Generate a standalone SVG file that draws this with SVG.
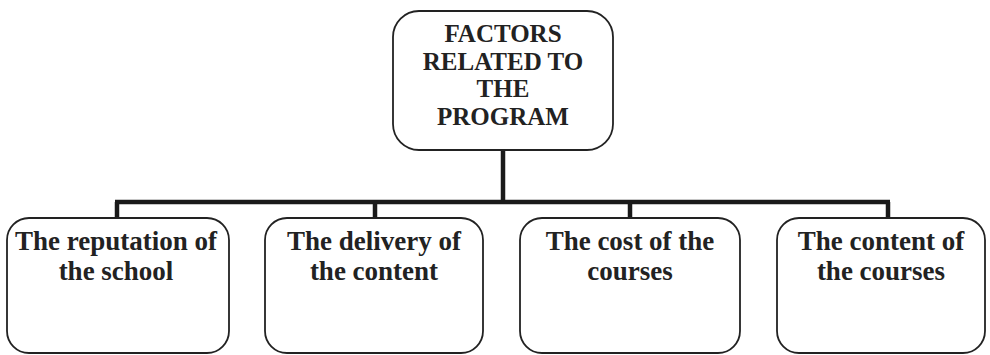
<svg xmlns="http://www.w3.org/2000/svg" width="990" height="355" viewBox="0 0 990 355">
<style>
.box{fill:#fff;stroke:#222;stroke-width:1.8}
.t{font-family:"Liberation Serif","Times New Roman",serif;font-weight:bold;fill:#222;text-anchor:middle}
.top{font-size:25px}
.sub{font-size:27px}
.conn{fill:none;stroke:#1a1a1a;stroke-width:4.5}
</style>
<rect width="990" height="355" fill="#fff"/>
<g id="connectors">
<line class="conn" x1="503" y1="150" x2="503" y2="202"/>
<line class="conn" x1="115" y1="202" x2="890" y2="202"/>
<line class="conn" x1="117" y1="202" x2="117" y2="218"/>
<line class="conn" x1="375" y1="202" x2="375" y2="218"/>
<line class="conn" x1="630" y1="202" x2="630" y2="218"/>
<line class="conn" x1="888" y1="202" x2="888" y2="218"/>
</g>
<g id="root">
<rect class="box" x="393" y="11" width="220" height="139" rx="26"/>
<text class="t top" x="503" y="42">FACTORS</text>
<text class="t top" x="503" y="70">RELATED TO</text>
<text class="t top" x="503" y="97">THE</text>
<text class="t top" x="503" y="125">PROGRAM</text>
</g>
<g id="reputation">
<rect class="box" x="7" y="218" width="222" height="135" rx="22"/>
<text class="t sub" x="116" y="250">The reputation of</text>
<text class="t sub" x="116" y="280">the school</text>
</g>
<g id="delivery">
<rect class="box" x="265" y="218" width="218" height="135" rx="22"/>
<text class="t sub" x="374" y="250">The delivery of</text>
<text class="t sub" x="374" y="280">the content</text>
</g>
<g id="cost">
<rect class="box" x="520" y="218" width="220" height="135" rx="22"/>
<text class="t sub" x="630" y="250">The cost of the</text>
<text class="t sub" x="630" y="280">courses</text>
</g>
<g id="content">
<rect class="box" x="777" y="218" width="208" height="135" rx="22"/>
<text class="t sub" x="881" y="250">The content of</text>
<text class="t sub" x="881" y="280">the courses</text>
</g>
</svg>
